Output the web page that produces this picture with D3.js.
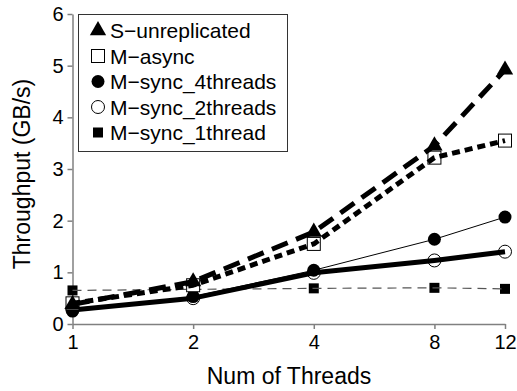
<!DOCTYPE html>
<html>
<head>
<meta charset="utf-8">
<script src="https://cdn.jsdelivr.net/npm/d3@7"></script>
<style>
  html, body { margin: 0; padding: 0; background: #fff; }
  svg { display: block; font-family: "Liberation Sans", Arial, sans-serif; }
</style>
</head>
<body>
<svg id="chart" width="517" height="391"></svg>
<script>
// Thread counts on the x axis
const threads = [1, 2, 4, 8, 12];
const yTicks = [0, 1, 2, 3, 4, 5, 6];

// Throughput (GB/s) per configuration
const sUnreplicated = [0.38, 0.82, 1.78, 3.45, 4.92];
const mAsync        = [0.40, 0.75, 1.55, 3.22, 3.55];
const mSync4        = [0.25, 0.53, 1.04, 1.64, 2.07];
const mSync2        = [0.27, 0.50, 0.99, 1.23, 1.40];
const mSync1        = [0.65, 0.67, 0.69, 0.70, 0.68];

const seriesNames = ["S\u2212unreplicated", "M\u2212async", "M\u2212sync_4threads", "M\u2212sync_2threads", "M\u2212sync_1thread"];

const series = [
  { name: seriesNames[0], values: sUnreplicated, marker: "triangle", width: 5, dash: "17,9", color: "#000" },
  { name: seriesNames[1], values: mAsync, marker: "openSquare", width: 5, dash: "8,5", color: "#000" },
  { name: seriesNames[2], values: mSync4, marker: "circle", width: 1, dash: null, color: "#000" },
  { name: seriesNames[3], values: mSync2, marker: "openCircle", width: 5, dash: null, color: "#000" },
  { name: seriesNames[4], values: mSync1, marker: "square", width: 1.2, dash: "9,6", color: "#555" }
];

const svg = d3.select("#chart");
const x = d3.scaleLog().base(2).domain([1, 12]).range([72.5, 505]);
const y = d3.scaleLinear().domain([0, 6]).range([324, 14]);

// Axes
const axisColor = "#808080";
const xAxis = svg.append("g").attr("transform", `translate(0,${y(0)})`)
  .call(d3.axisBottom(x).tickValues(threads).tickFormat(d3.format("d")).tickSize(5).tickSizeOuter(0));
const yAxis = svg.append("g").attr("transform", `translate(${x(1)},0)`)
  .call(d3.axisLeft(y).tickValues(yTicks).tickFormat(d3.format("d")).tickSize(5).tickSizeOuter(0));

[xAxis, yAxis].forEach(g => {
  g.select(".domain").attr("stroke", axisColor).attr("stroke-width", 1.5);
  g.selectAll(".tick line").attr("stroke", axisColor).attr("stroke-width", 1.5);
  g.selectAll(".tick text").attr("fill", "#000").style("font-size", "20px")
    .style("font-family", "'Liberation Sans', Arial, sans-serif");
});
xAxis.selectAll(".tick text").attr("dy", "0.95em").attr("y", 6);
yAxis.selectAll(".tick text").attr("x", -9);

// Axis titles
svg.append("text").attr("x", 289).attr("y", 384).attr("text-anchor", "middle")
  .style("font-size", "23px").text("Num of Threads");
svg.append("text").attr("transform", "translate(30,174) rotate(-90)").attr("text-anchor", "middle")
  .style("font-size", "23px").text("Throughput (GB/s)");

// Marker drawing
function drawMarker(g, type, cx, cy) {
  if (type === "triangle") {
    g.append("path").attr("d", d3.symbol().type(d3.symbolTriangle).size(115)())
      .attr("transform", `translate(${cx},${cy})`).attr("fill", "#000");
  } else if (type === "openSquare") {
    g.append("rect").attr("x", cx - 6.5).attr("y", cy - 6.5).attr("width", 13).attr("height", 13)
      .attr("fill", "#fff").attr("stroke", "#000").attr("stroke-width", 1);
  } else if (type === "circle") {
    g.append("circle").attr("cx", cx).attr("cy", cy).attr("r", 6.5).attr("fill", "#000");
  } else if (type === "openCircle") {
    g.append("circle").attr("cx", cx).attr("cy", cy).attr("r", 6.5)
      .attr("fill", "#fff").attr("stroke", "#000").attr("stroke-width", 1);
  } else if (type === "square") {
    g.append("rect").attr("x", cx - 5).attr("y", cy - 5).attr("width", 10).attr("height", 10).attr("fill", "#000");
  }
}

const line = d3.line().x((d, i) => x(threads[i])).y(d => y(d));

// Draw from the bottom of the legend order upward so the top entries sit in front
const drawOrder = [4, 3, 2, 1, 0];
const plot = svg.append("g");
drawOrder.forEach(k => {
  const s = series[k];
  const g = plot.append("g");
  s.values.forEach((v, i) => drawMarker(g, s.marker, x(threads[i]), y(v)));
  g.append("path").datum(s.values).attr("d", line)
    .attr("fill", "none").attr("stroke", s.color).attr("stroke-width", s.width)
    .attr("stroke-dasharray", s.dash).attr("stroke-linejoin", "round");
});

// Legend
const legend = svg.append("g");
legend.append("rect").attr("x", 78.5).attr("y", 14.5).attr("width", 209).attr("height", 137)
  .attr("fill", "#fff").attr("stroke", "#333").attr("stroke-width", 1);
series.forEach((s, i) => {
  const cy = 30.5 + i * 25.5;
  drawMarker(legend, s.marker, 98, cy);
  legend.append("text").attr("x", 110).attr("y", cy).attr("dy", "0.36em")
    .style("font-size", "21px").text(s.name);
});
</script>
</body>
</html>
